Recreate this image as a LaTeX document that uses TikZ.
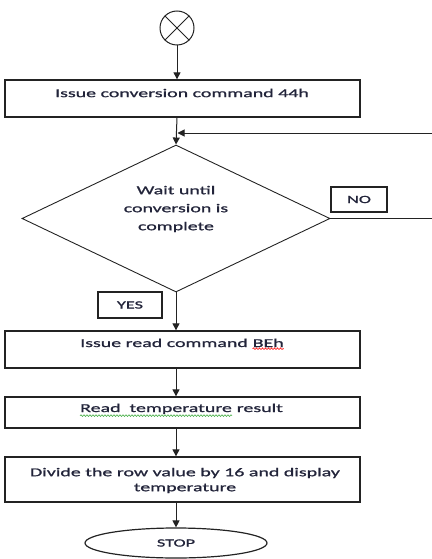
\documentclass[tikz,border=0pt]{standalone}
\usepackage{fontspec}
\setmainfont{Carlito}[FakeStretch=1.66, FakeBold=1.1]
\usetikzlibrary{shapes.geometric,arrows.meta,calc,decorations.pathmorphing}

\definecolor{ink}{RGB}{34,36,58}
\definecolor{edge}{RGB}{35,35,35}
\definecolor{spellgreen}{RGB}{60,170,60}

\tikzset{
  flowbox/.style={draw=edge, line width=1.3pt, rectangle, minimum width=355pt, inner sep=0pt},
  tagbox/.style={draw=edge, line width=1.3pt, rectangle, inner sep=0pt, text=ink,
                 font=\fontsize{11}{13}\selectfont},
  label/.style={text=ink, font=\fontsize{12}{15}\selectfont, align=center, inner sep=0pt},
  flow/.style={draw=edge, line width=1pt, -{Triangle[length=7pt,width=7pt]}},
  plain/.style={draw=edge, line width=1pt},
  spellwave/.style={line width=0.6pt, decorate,
                    decoration={snake, segment length=3pt, amplitude=0.8pt}},
}

\begin{document}
\begin{tikzpicture}[x=1pt, y=-1pt]
  \useasboundingbox (0,0) rectangle (431,559);

  % start connector symbol
  \node[circle, draw=edge, line width=1pt, minimum size=34pt, inner sep=0pt] (start) at (177,28) {};
  \draw[plain, line width=0.8pt] (start.45) -- (start.225) (start.135) -- (start.315);

  % process boxes
  \node[flowbox, minimum height=37pt] (b1) at (182.5,98.5) {};
  \node[label] (t1) at (182,93) {Issue conversion command 44h};

  % decision
  \node[diamond, draw=edge, line width=0.9pt, minimum width=308pt, minimum height=147pt, inner sep=0pt] (d) at (176,218.5) {};
  \node[label, font=\fontsize{12}{18}\selectfont] (td) at (176,209) {Wait until\\conversion is\\complete};

  \node[tagbox, minimum width=56pt, minimum height=25pt] (no) at (359,199.5) {NO};
  \node[tagbox, minimum width=64pt, minimum height=26pt] (yes) at (130,305) {YES};

  \node[flowbox, minimum height=37pt] (b2) at (182.5,349.5) {};
  \node[label, anchor=base west] (t2a) at (80,347) {Issue read command\ };
  \node[label, anchor=base west] (t2b) at (t2a.base east) {BEh};
  \draw[spellwave, red] ([yshift=-1.5pt]t2b.south west) -- ([yshift=-1.5pt]t2b.south east);

  \node[flowbox, minimum height=31pt] (b3) at (182.5,412.5) {};
  \node[label, anchor=base west] (t3a) at (80,412) {Read\ \ temperature};
  \node[label, anchor=base west] (t3b) at (t3a.base east) {\ result};
  \draw[spellwave, spellgreen] ([yshift=-1.5pt]t3a.south west) -- ([yshift=-1.5pt]t3a.south east);

  \node[flowbox, minimum height=45pt] (b4) at (182.5,479.5) {};
  \node[label] (t4) at (185,480.5) {Divide the row value by 16 and display\\temperature};

  % terminator
  \node[ellipse, draw=edge, line width=1.2pt, minimum width=182pt, minimum height=30pt, inner sep=0pt,
        text=ink, font=\fontsize{11}{13}\selectfont] (stop) at (176,543) {STOP};

  % loop-back corner points (just outside the page)
  \coordinate (loopA) at (436,218.5);
  \coordinate (loopB) at (436,133);
  \coordinate (join) at (176,133);

  % connectors
  \draw[flow] (start.south) -- (start.south |- b1.north);
  \draw[flow] (start.south |- b1.south) -- (d.north);
  \draw[plain] (d.east) -- (loopA) -- (loopB);
  \draw[plain, -{Triangle[length=7pt,width=7pt]}] (loopB) -- ($(join)+(1.5,0)$);
  \draw[flow] (d.south) -- (d.south |- b2.north);
  \draw[flow] (d.south |- b2.south) -- (d.south |- b3.north);
  \draw[flow] (d.south |- b3.south) -- (d.south |- b4.north);
  \draw[flow] (d.south |- b4.south) -- (stop.north);
\end{tikzpicture}
\end{document}
